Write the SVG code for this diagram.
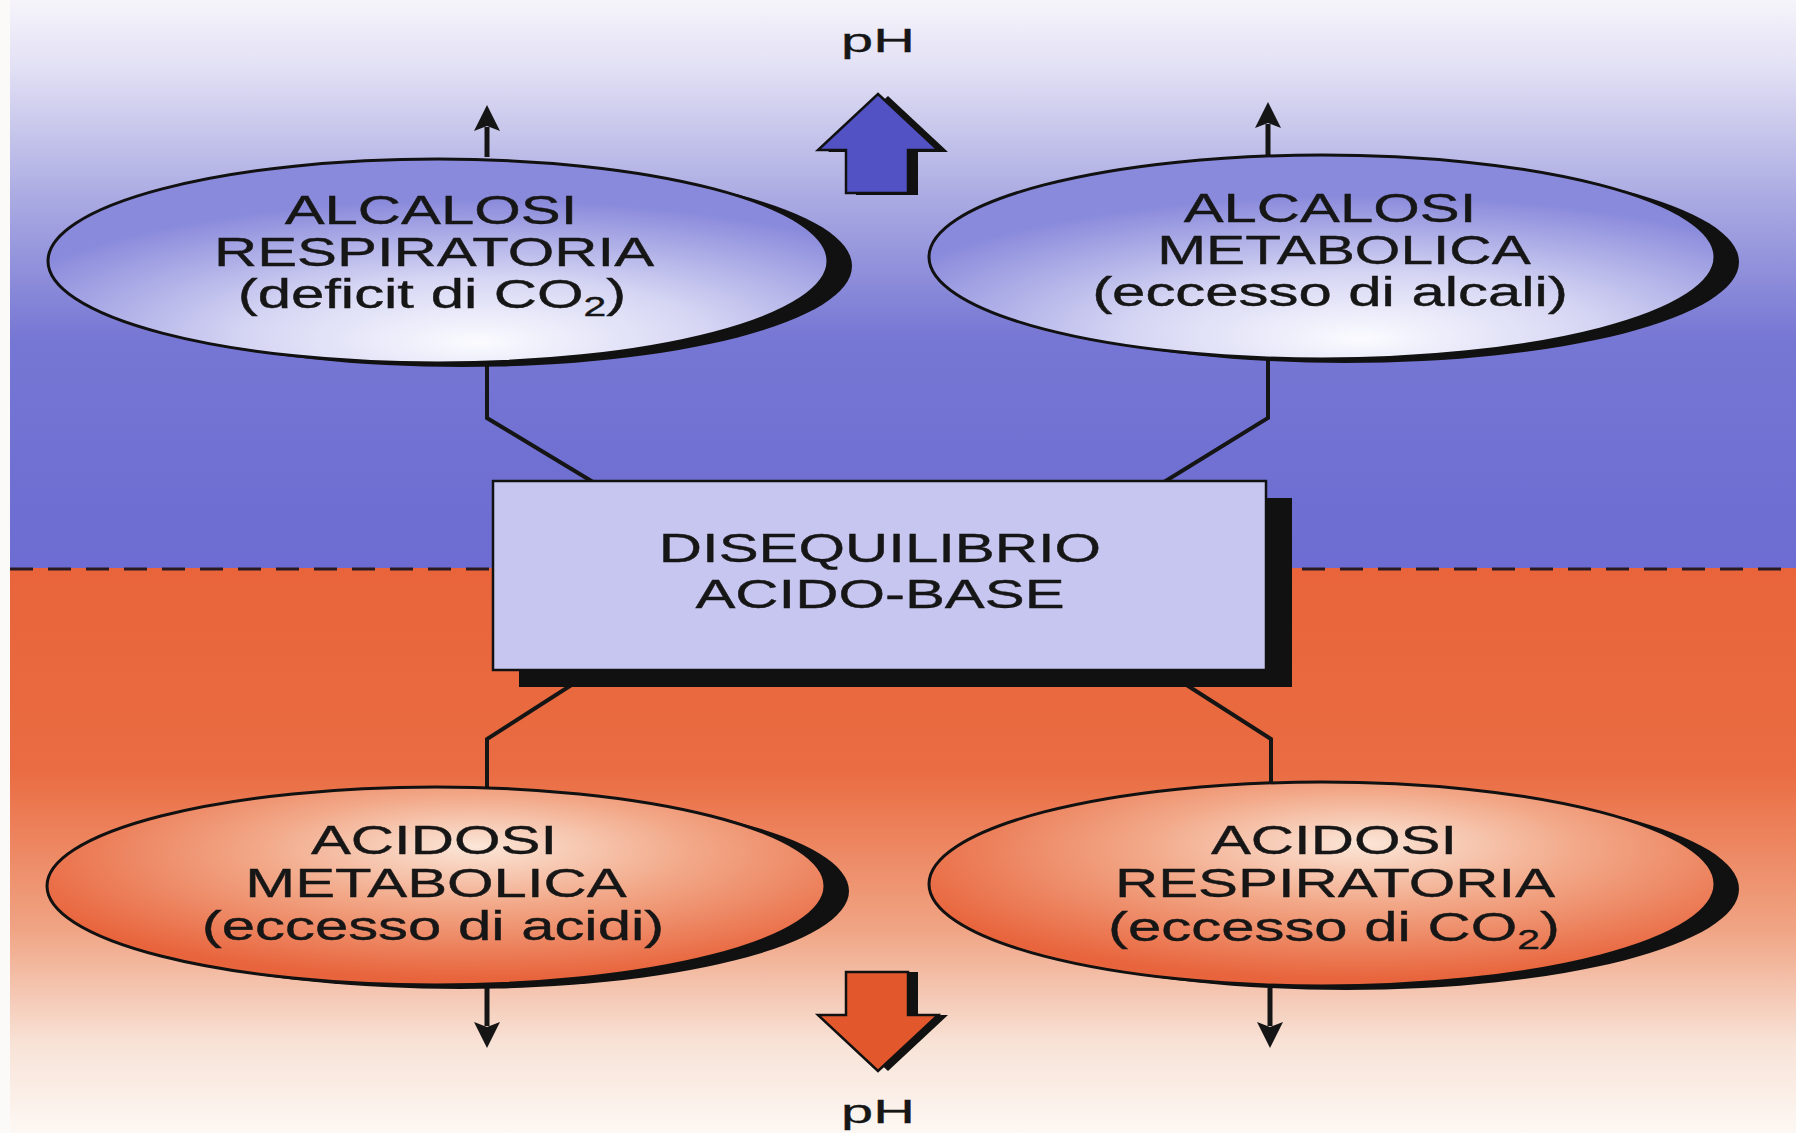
<svg xmlns="http://www.w3.org/2000/svg" width="1796" height="1133" viewBox="0 0 1796 1133">
<defs>
<style>
.t{font-family:"Liberation Sans",Arial,sans-serif;font-size:41px;fill:#161616;text-anchor:middle;stroke:#161616;stroke-width:0.4}
.ph{font-family:"Liberation Sans",Arial,sans-serif;font-size:34px;fill:#161616;text-anchor:middle;stroke:#161616;stroke-width:0.3}
.ell{stroke:#111;stroke-width:3}
.shadow{fill:#111}
.conn{fill:none;stroke:#151515;stroke-width:4;stroke-linejoin:miter}
.arr{fill:none;stroke:#151515;stroke-width:5}
</style>
<linearGradient id="bg" x1="0" y1="0" x2="0" y2="1">
<stop offset="0" stop-color="#f6f4fa"/>
<stop offset="0.06" stop-color="#e2e0f4"/>
<stop offset="0.18" stop-color="#a8a8e2"/>
<stop offset="0.3" stop-color="#7676d4"/>
<stop offset="0.501" stop-color="#6c6cd2"/>
<stop offset="0.501" stop-color="#e9643a"/>
<stop offset="0.68" stop-color="#ea6c42"/>
<stop offset="0.82" stop-color="#f0a484"/>
<stop offset="0.92" stop-color="#f8e2d6"/>
<stop offset="1" stop-color="#fdf8f4"/>
</linearGradient>
<radialGradient id="gBlue" cx="0.55" cy="0.85" r="0.65" fx="0.55" fy="0.9">
<stop offset="0" stop-color="#fbfbff"/>
<stop offset="0.45" stop-color="#d6d6f4"/>
<stop offset="1" stop-color="#8a8adc"/>
</radialGradient>
<radialGradient id="gOrange" cx="0.55" cy="0.35" r="0.62" fx="0.55" fy="0.3">
<stop offset="0" stop-color="#fbe6d8"/>
<stop offset="0.45" stop-color="#f2a888"/>
<stop offset="1" stop-color="#e8643c"/>
</radialGradient>
<marker id="head" viewBox="0 0 30 26" refX="4" refY="13" markerWidth="30" markerHeight="26" markerUnits="userSpaceOnUse" orient="auto">
<path d="M0,0 L26,13 L0,26 L5,13 Z" fill="#151515"/>
</marker>
</defs>

<rect x="0" y="0" width="1796" height="1133" fill="url(#bg)"/>
<rect x="0" y="0" width="10" height="1133" fill="#fbfaf8"/>
<line x1="10" y1="569" x2="1796" y2="569" stroke="#2a1a20" stroke-width="3" stroke-dasharray="23 15"/>

<g id="connectors">
<polyline class="conn" points="487,362 487,418 593,482"/>
<polyline class="conn" points="1268,358 1268,418 1164,482"/>
<polyline class="conn" points="573,684 487,739 487,788"/>
<polyline class="conn" points="1185,684 1271,739 1271,784"/>
<line class="arr" x1="487" y1="157" x2="487" y2="127" marker-end="url(#head)"/>
<line class="arr" x1="1268" y1="156" x2="1268" y2="124" marker-end="url(#head)"/>
<line class="arr" x1="487" y1="984" x2="487" y2="1026" marker-end="url(#head)"/>
<line class="arr" x1="1270" y1="988" x2="1270" y2="1026" marker-end="url(#head)"/>
</g>

<g id="ph-up">
<polygon points="888,96 948,152 918,152 918,195 856,195 856,152 828,152" fill="#111"/>
<polygon points="878,94 938,150 908,150 908,193 846,193 846,150 818,150" fill="#5252c4" stroke="#111" stroke-width="2.5"/>
<text class="ph" transform="translate(878 52) scale(1.7 1)">pH</text>
</g>

<g id="ph-down">
<polygon points="856,972 918,972 918,1015 948,1015 888,1071 828,1015 856,1015" fill="#111"/>
<polygon points="846,972 908,972 908,1015 938,1015 878,1071 818,1015 846,1015" fill="#e2582c" stroke="#111" stroke-width="2.5"/>
<text class="ph" transform="translate(878 1123) scale(1.7 1)">pH</text>
</g>

<g id="alcalosi-respiratoria">
<ellipse class="shadow" cx="462" cy="266" rx="390" ry="101"/>
<ellipse class="ell" cx="438" cy="261" rx="390" ry="102" fill="url(#gBlue)"/>
<text class="t" transform="translate(431 224) scale(1.46 1)">ALCALOSI</text>
<text class="t" transform="translate(434 266) scale(1.46 1)">RESPIRATORIA</text>
<text class="t" transform="translate(432 308) scale(1.46 1)">(deficit di CO<tspan font-size="28" dy="8">2</tspan><tspan dy="-8">)</tspan></text>
</g>

<g id="alcalosi-metabolica">
<ellipse class="shadow" cx="1346" cy="262" rx="393" ry="101"/>
<ellipse class="ell" cx="1322" cy="257" rx="393" ry="102" fill="url(#gBlue)"/>
<text class="t" transform="translate(1330 222) scale(1.46 1)">ALCALOSI</text>
<text class="t" transform="translate(1344 264) scale(1.43 1)">METABOLICA</text>
<text class="t" transform="translate(1330 306) scale(1.46 1)">(eccesso di alcali)</text>
</g>

<g id="disequilibrio">
<rect x="519" y="498" width="773" height="189" fill="#111"/>
<rect x="493" y="481" width="773" height="189" fill="#c6c6f0" stroke="#111" stroke-width="2.5"/>
<text class="t" transform="translate(880 562) scale(1.46 1)">DISEQUILIBRIO</text>
<text class="t" transform="translate(880 608) scale(1.46 1)">ACIDO-BASE</text>
</g>

<g id="acidosi-metabolica">
<ellipse class="shadow" cx="460" cy="891" rx="389" ry="98"/>
<ellipse class="ell" cx="436" cy="886" rx="389" ry="99" fill="url(#gOrange)"/>
<text class="t" transform="translate(434 854) scale(1.46 1)">ACIDOSI</text>
<text class="t" transform="translate(436 897) scale(1.46 1)">METABOLICA</text>
<text class="t" transform="translate(433 940) scale(1.46 1)">(eccesso di acidi)</text>
</g>

<g id="acidosi-respiratoria">
<ellipse class="shadow" cx="1346" cy="889" rx="393" ry="101"/>
<ellipse class="ell" cx="1322" cy="884" rx="393" ry="102" fill="url(#gOrange)"/>
<text class="t" transform="translate(1334 854) scale(1.46 1)">ACIDOSI</text>
<text class="t" transform="translate(1335 897) scale(1.46 1)">RESPIRATORIA</text>
<text class="t" transform="translate(1334 941) scale(1.46 1)">(eccesso di CO<tspan font-size="28" dy="8">2</tspan><tspan dy="-8">)</tspan></text>
</g>
</svg>
